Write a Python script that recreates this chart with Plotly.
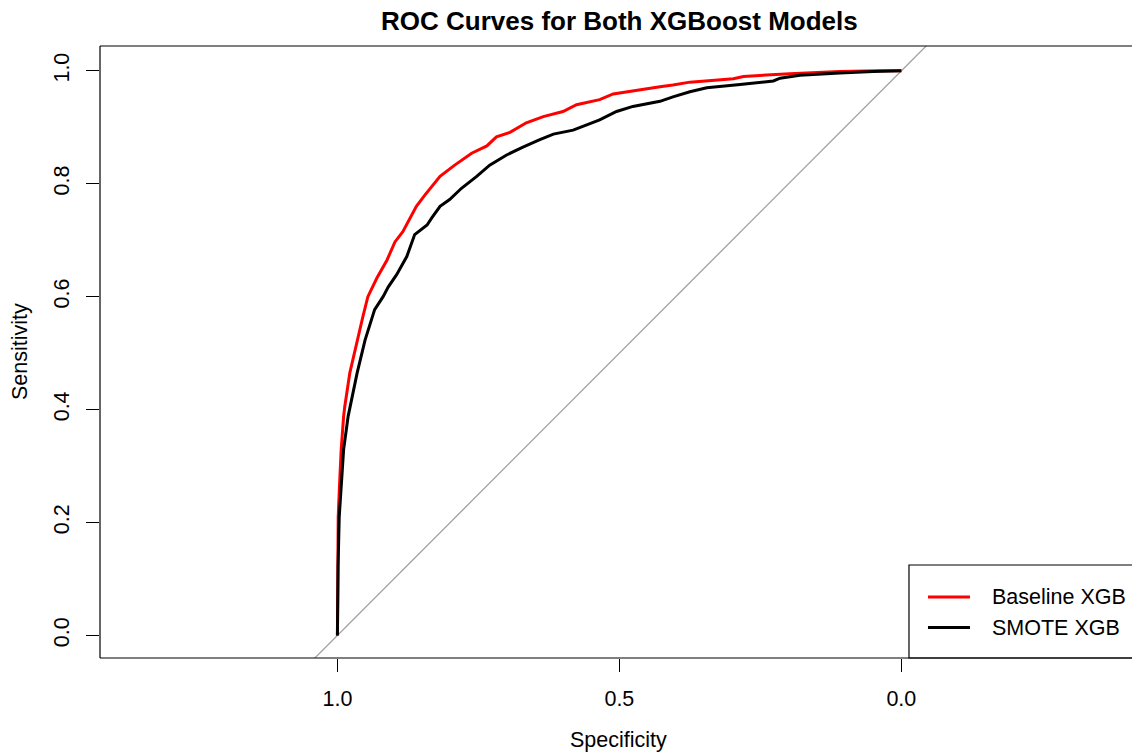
import plotly.graph_objects as go

# ROC curve coordinates (specificity, sensitivity) for the two XGBoost models
baseline_spec = [1.000, 0.9998, 0.9993, 0.9986, 0.9961, 0.9933, 0.989, 0.987, 0.978, 0.966,
                 0.955, 0.946, 0.930, 0.912, 0.898, 0.884, 0.871, 0.860, 0.845, 0.830,
                 0.818, 0.792, 0.762, 0.735, 0.718, 0.694, 0.665, 0.635, 0.600, 0.576,
                 0.535, 0.511, 0.476, 0.428, 0.405, 0.375, 0.298, 0.280, 0.198, 0.109,
                 0.039, 0.000]
baseline_sens = [0.000, 0.063, 0.122, 0.210, 0.270, 0.329, 0.388, 0.405, 0.465, 0.518,
                 0.564, 0.600, 0.633, 0.665, 0.697, 0.715, 0.739, 0.760, 0.780, 0.798,
                 0.813, 0.833, 0.854, 0.867, 0.883, 0.891, 0.908, 0.919, 0.928, 0.940,
                 0.949, 0.959, 0.965, 0.972, 0.975, 0.980, 0.986, 0.990, 0.995, 0.999,
                 1.000, 1.000]

smote_spec = [1.000, 0.9996, 0.9988, 0.9968, 0.9933, 0.989, 0.981, 0.975, 0.965, 0.951,
              0.934, 0.919, 0.910, 0.895, 0.877, 0.863, 0.841, 0.833, 0.818, 0.801,
              0.780, 0.753, 0.730, 0.700, 0.671, 0.641, 0.617, 0.582, 0.564, 0.535,
              0.505, 0.476, 0.428, 0.405, 0.375, 0.345, 0.286, 0.227, 0.215, 0.180,
              0.109, 0.050, 0.000]
smote_sens = [0.000, 0.063, 0.122, 0.210, 0.270, 0.329, 0.388, 0.417, 0.465, 0.523,
              0.577, 0.600, 0.617, 0.639, 0.671, 0.710, 0.727, 0.739, 0.760, 0.772,
              0.792, 0.813, 0.833, 0.851, 0.865, 0.878, 0.888, 0.895, 0.902, 0.913,
              0.928, 0.937, 0.946, 0.954, 0.963, 0.970, 0.976, 0.982, 0.987, 0.992,
              0.996, 0.999, 1.000]

series_names = ["Baseline XGB", "SMOTE XGB"]
series_colors = ["#ff0000", "#000000"]

tick_vals = [1.0, 0.5, 0.0]
tick_text = ["1.0", "0.5", "0.0"]
ytick_vals = [0.0, 0.2, 0.4, 0.6, 0.8, 1.0]
ytick_text = ["0.0", "0.2", "0.4", "0.6", "0.8", "1.0"]

FONT = "Liberation Sans, Arial, Helvetica, sans-serif"
W, H = 1132, 756
ML, MR, MT, MB = 100, 0, 46, 98
PLOT_W, PLOT_H = W - ML - MR, H - MT - MB

fig = go.Figure()

# chance diagonal, clipped to the plotting region
fig.add_trace(go.Scatter(x=[1.6, -0.6], y=[-0.6, 1.6], mode="lines",
                         line=dict(color="#a0a0a0", width=1.3),
                         hoverinfo="skip", showlegend=False))

for name, color, xs, ys in [
    (series_names[0], series_colors[0], baseline_spec, baseline_sens),
    (series_names[1], series_colors[1], smote_spec, smote_sens),
]:
    fig.add_trace(go.Scatter(x=xs, y=ys, mode="lines", name=name,
                             line=dict(color=color, width=3),
                             showlegend=False))

axis_common = dict(
    showgrid=False, zeroline=False, showline=False,
    ticks="outside", ticklen=13, tickwidth=1, tickcolor="black",
    tickfont=dict(family=FONT, size=21.5, color="black"),
)

fig.update_layout(
    width=W, height=H,
    margin=dict(l=ML, r=MR, t=MT, b=MB, pad=0),
    paper_bgcolor="white", plot_bgcolor="white",
    showlegend=False,
    xaxis=dict(range=[1.421, -0.409], tickvals=tick_vals, ticktext=tick_text,
               ticklabelstandoff=8, **axis_common),
    yaxis=dict(range=[-0.040, 1.044], tickvals=ytick_vals, ticktext=ytick_text,
               tickangle=-90, ticklabelstandoff=8, **axis_common),
)

# plot frame (right side runs past the page edge)
frame = dict(type="line", xref="paper", yref="paper", line=dict(color="black", width=1.2))
fig.add_shape(x0=0, x1=0, y0=0, y1=1, **frame)
fig.add_shape(x0=0, x1=1, y0=1, y1=1, **frame)
fig.add_shape(x0=0, x1=1, y0=0, y1=0, **frame)

# legend box in the bottom-right corner
fig.add_shape(type="rect", xref="paper", yref="paper", x0=0.7839, x1=1.02, y0=0, y1=0.152,
              line=dict(color="black", width=1.2), fillcolor="rgba(0,0,0,0)")
legend_rows_y = [0.0997, 0.0498]
for name, color, ly in zip(series_names, series_colors, legend_rows_y):
    fig.add_shape(type="line", xref="paper", yref="paper", x0=0.8023, x1=0.8430,
                  y0=ly, y1=ly, line=dict(color=color, width=3))
    fig.add_annotation(x=0.8624, y=ly, xref="paper", yref="paper", text=name,
                       showarrow=False, xanchor="left", yanchor="middle",
                       font=dict(family=FONT, size=21.5, color="black"))

# title and axis titles
fig.add_annotation(x=0.503, y=(H - MB - 21) / PLOT_H,
                   xref="paper", yref="paper", text="<b>ROC Curves for Both XGBoost Models</b>",
                   showarrow=False, xanchor="center", yanchor="middle",
                   font=dict(family=FONT, size=26, color="black"))
fig.add_annotation(x=0.5028, y=(H - MB - 740) / PLOT_H, xref="paper", yref="paper",
                   text="Specificity", showarrow=False, xanchor="center", yanchor="middle",
                   font=dict(family=FONT, size=21.5, color="black"))
fig.add_annotation(x=(20 - ML) / PLOT_W, y=(H - MB - 352) / PLOT_H, xref="paper", yref="paper",
                   text="Sensitivity", showarrow=False, textangle=-90,
                   xanchor="center", yanchor="middle",
                   font=dict(family=FONT, size=21.5, color="black"))

fig.write_html("out.html")
